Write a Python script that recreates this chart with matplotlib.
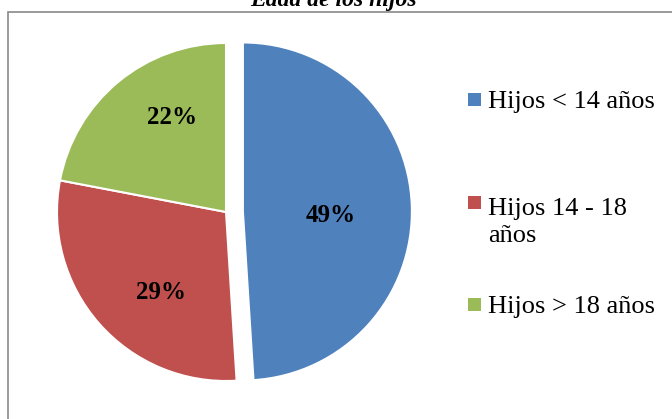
import matplotlib.pyplot as plt
from matplotlib.patches import Rectangle

# datos
categorias = ['Hijos < 14 años', 'Hijos 14 - 18\naños', 'Hijos > 18 años']
porcentajes = [49, 29, 22]
colores = ['#4F81BD', '#C0504D', '#9BBB59']
titulo = 'Edad de los hijos'

plt.rcParams['font.family'] = ['Liberation Serif', 'DejaVu Serif']

W, H = 672, 419
fig = plt.figure(figsize=(W / 100, H / 100), dpi=100)

# marco gris del grafico (se sale por la derecha y por abajo)
fig.patches.append(Rectangle((7.5 / W, -0.2), 2, 1.2 - 12 / H, transform=fig.transFigure,
                             fill=False, edgecolor='#898989', linewidth=1.2))

# pastel: centro (226, 212) px, radio 169 px
cx, cy, r, half = 226, 212, 169, 200
ax = fig.add_axes([(cx - half) / W, (H - cy - half) / H, 2 * half / W, 2 * half / H])
wedges, texts, autotexts = ax.pie(porcentajes, colors=colores, startangle=90, counterclock=False,
                                  explode=[0.1, 0, 0], autopct='%d%%',
                                  wedgeprops=dict(edgecolor='white', linewidth=1.5),
                                  textprops=dict(fontsize=18, fontweight='bold', color='black'))
ax.set_xlim(-half / r, half / r)
ax.set_ylim(-half / r, half / r)
ax.set_aspect('equal')

# posicion de las etiquetas como en el original
pos_etiquetas = [(0.618, -0.057), (-0.385, -0.515), (-0.321, 0.519)]
for t, p in zip(autotexts, pos_etiquetas):
    t.set_position(p)
    t.set_va('baseline')
    t.set_ha('center')

# titulo (cortado arriba, como en el original)
fig.text(333 / W, 1 - 6 / H, titulo, ha='center', va='baseline', fontsize=17,
         fontweight='bold', fontstyle='italic')

# leyenda manual (y = linea base de la ultima linea; cuadro junto a la primera)
base_ultima = [108.3, 241.7, 313]
base_primera = [108.3, 211, 313]
for lab, col, by, b1 in zip(categorias, colores, base_ultima, base_primera):
    fig.patches.append(Rectangle((468 / W, 1 - (b1 - 2.5) / H), 13 / W, 13 / H,
                                 transform=fig.transFigure, facecolor=col, edgecolor='none'))
    fig.text(488 / W, 1 - by / H, lab, ha='left', va='baseline', fontsize=19, linespacing=1.28)

fig.savefig('out.png', dpi=100)
